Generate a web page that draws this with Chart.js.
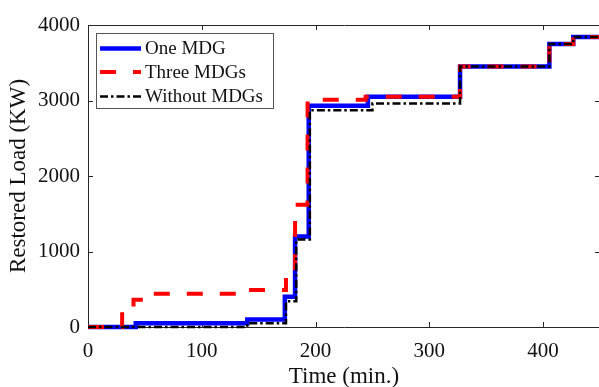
<!DOCTYPE html>
<html><head><meta charset="utf-8">
<script src="https://cdn.jsdelivr.net/npm/chart.js@4"></script>
<style>
html,body{margin:0;padding:0;background:#fff;overflow:hidden}
#wrap{width:599px;height:387px;overflow:hidden;position:relative;background:#fff}
canvas{display:block}
</style></head>
<body><div id="wrap"><canvas id="c" width="612" height="400"></canvas></div>
<script>
const seriesNames = ['One MDG', 'Three MDGs', 'Without MDGs'];
const oneMdgTimes = [0, 42, 140, 173, 182, 194, 246, 327, 405.5, 426.5, 450];
const oneMdgLoads = [0, 50, 100, 400, 1200, 2930, 3050, 3450, 3750, 3840, 3840];
const threeMdgTimes = [0, 30, 40, 52, 138, 174, 182, 193, 244, 327, 405.5, 426.5, 450];
const threeMdgLoads = [0, 200, 360, 440, 490, 700, 1620, 3010, 3050, 3450, 3750, 3840, 3840];
const noMdgTimes = [0, 140, 174, 183, 195, 250, 327, 405.5, 426.5, 450];
const noMdgLoads = [0, 50, 340, 1160, 2870, 2960, 3450, 3750, 3840, 3840];
const xTickValues = [0, 100, 200, 300, 400];
const yTickValues = [0, 1000, 2000, 3000, 4000];

const toPts = (ts, vs) => ts.map((t, i) => ({x: t, y: vs[i]}));
const SERIF = "'Liberation Serif', 'Times New Roman', serif";
const AXC = '#262626';

const framePlugin = {
  id: 'frame',
  beforeDatasetsDraw(chart) {
    const {ctx, chartArea: a, scales: {x, y}} = chart;
    ctx.save();
    ctx.strokeStyle = AXC;
    ctx.lineWidth = 1;
    ctx.beginPath();
    ctx.rect(Math.round(a.left) + 0.5, Math.round(a.top) + 0.5, Math.round(a.right - a.left), Math.round(a.bottom - a.top));
    ctx.stroke();
    ctx.beginPath();
    xTickValues.forEach(v => {
      const px = Math.round(x.getPixelForValue(v)) + 0.5;
      ctx.moveTo(px, a.bottom); ctx.lineTo(px, a.bottom - 5);
      ctx.moveTo(px, a.top); ctx.lineTo(px, a.top + 5);
    });
    yTickValues.forEach(v => {
      const py = Math.round(y.getPixelForValue(v)) + 0.5;
      ctx.moveTo(a.left, py); ctx.lineTo(a.left + 5, py);
      ctx.moveTo(a.right, py); ctx.lineTo(a.right - 5, py);
    });
    ctx.stroke();
    ctx.restore();
  }
};

const legendPlugin = {
  id: 'boxLegend',
  afterDraw(chart) {
    const {ctx} = chart;
    const bx = 96, by = 33, bw = 177, bh = 75;
    ctx.save();
    ctx.fillStyle = '#fff';
    ctx.fillRect(bx, by, bw, bh);
    ctx.strokeStyle = '#555';
    ctx.lineWidth = 1;
    ctx.strokeRect(bx + 0.5, by + 0.5, bw, bh);
    const rows = [48.5, 72, 96.5];
    chart.data.datasets.forEach((ds, i) => {
      const yy = rows[i];
      ctx.beginPath();
      ctx.strokeStyle = ds.borderColor;
      ctx.lineWidth = ds.borderWidth;
      ctx.setLineDash(ds.borderDash || []);
      ctx.moveTo(100, yy); ctx.lineTo(141, yy);
      ctx.stroke();
      ctx.setLineDash([]);
      ctx.fillStyle = '#111';
      ctx.font = '19px ' + SERIF;
      ctx.textBaseline = 'middle';
      ctx.textAlign = 'left';
      ctx.fillText(ds.label, 145, yy + 1);
    });
    ctx.restore();
  }
};

new Chart(document.getElementById('c'), {
  type: 'line',
  data: {
    datasets: [
      {label: seriesNames[0], data: toPts(oneMdgTimes, oneMdgLoads), borderColor: '#0000ff', borderWidth: 4.5, stepped: true, pointRadius: 0, fill: false, order: 3, clip: 6},
      {label: seriesNames[1], data: toPts(threeMdgTimes, threeMdgLoads), borderColor: '#ff0000', borderWidth: 4, borderDash: [16, 17], stepped: true, pointRadius: 0, fill: false, order: 2, clip: 6},
      {label: seriesNames[2], data: toPts(noMdgTimes, noMdgLoads), borderColor: '#000000', borderWidth: 2.5, borderDash: [8, 3, 2.5, 3], stepped: true, pointRadius: 0, fill: false, order: 1, clip: 6}
    ]
  },
  options: {
    responsive: false,
    animation: false,
    devicePixelRatio: 1,
    layout: {padding: {left: 0, top: 25, right: 12, bottom: 0}},
    plugins: {legend: {display: false}, tooltip: {enabled: false}},
    scales: {
      x: {
        type: 'linear', min: 0, max: 450,
        afterBuildTicks: s => { s.ticks = xTickValues.map(v => ({value: v})); },
        afterFit: s => { s.height = 73; },
        grid: {display: false, drawTicks: false},
        border: {display: false},
        ticks: {color: '#111', font: {family: SERIF, size: 21}, padding: 12, maxRotation: 0, autoSkip: false, callback: v => String(v)},
        title: {display: true, text: 'Time (min.)', color: '#111', font: {family: SERIF, size: 23}, padding: {top: 0, bottom: 9}}
      },
      y: {
        type: 'linear', min: 0, max: 4000,
        afterBuildTicks: s => { s.ticks = yTickValues.map(v => ({value: v})); },
        afterFit: s => { s.width = 88; },
        grid: {display: false, drawTicks: false},
        border: {display: false},
        ticks: {color: '#111', font: {family: SERIF, size: 21}, padding: 8, callback: v => String(v)},
        title: {display: true, text: 'Restored Load (KW)', color: '#111', font: {family: SERIF, size: 23}, padding: {top: 5, bottom: 0}}
      }
    }
  },
  plugins: [framePlugin, legendPlugin]
});
</script>
</body></html>
